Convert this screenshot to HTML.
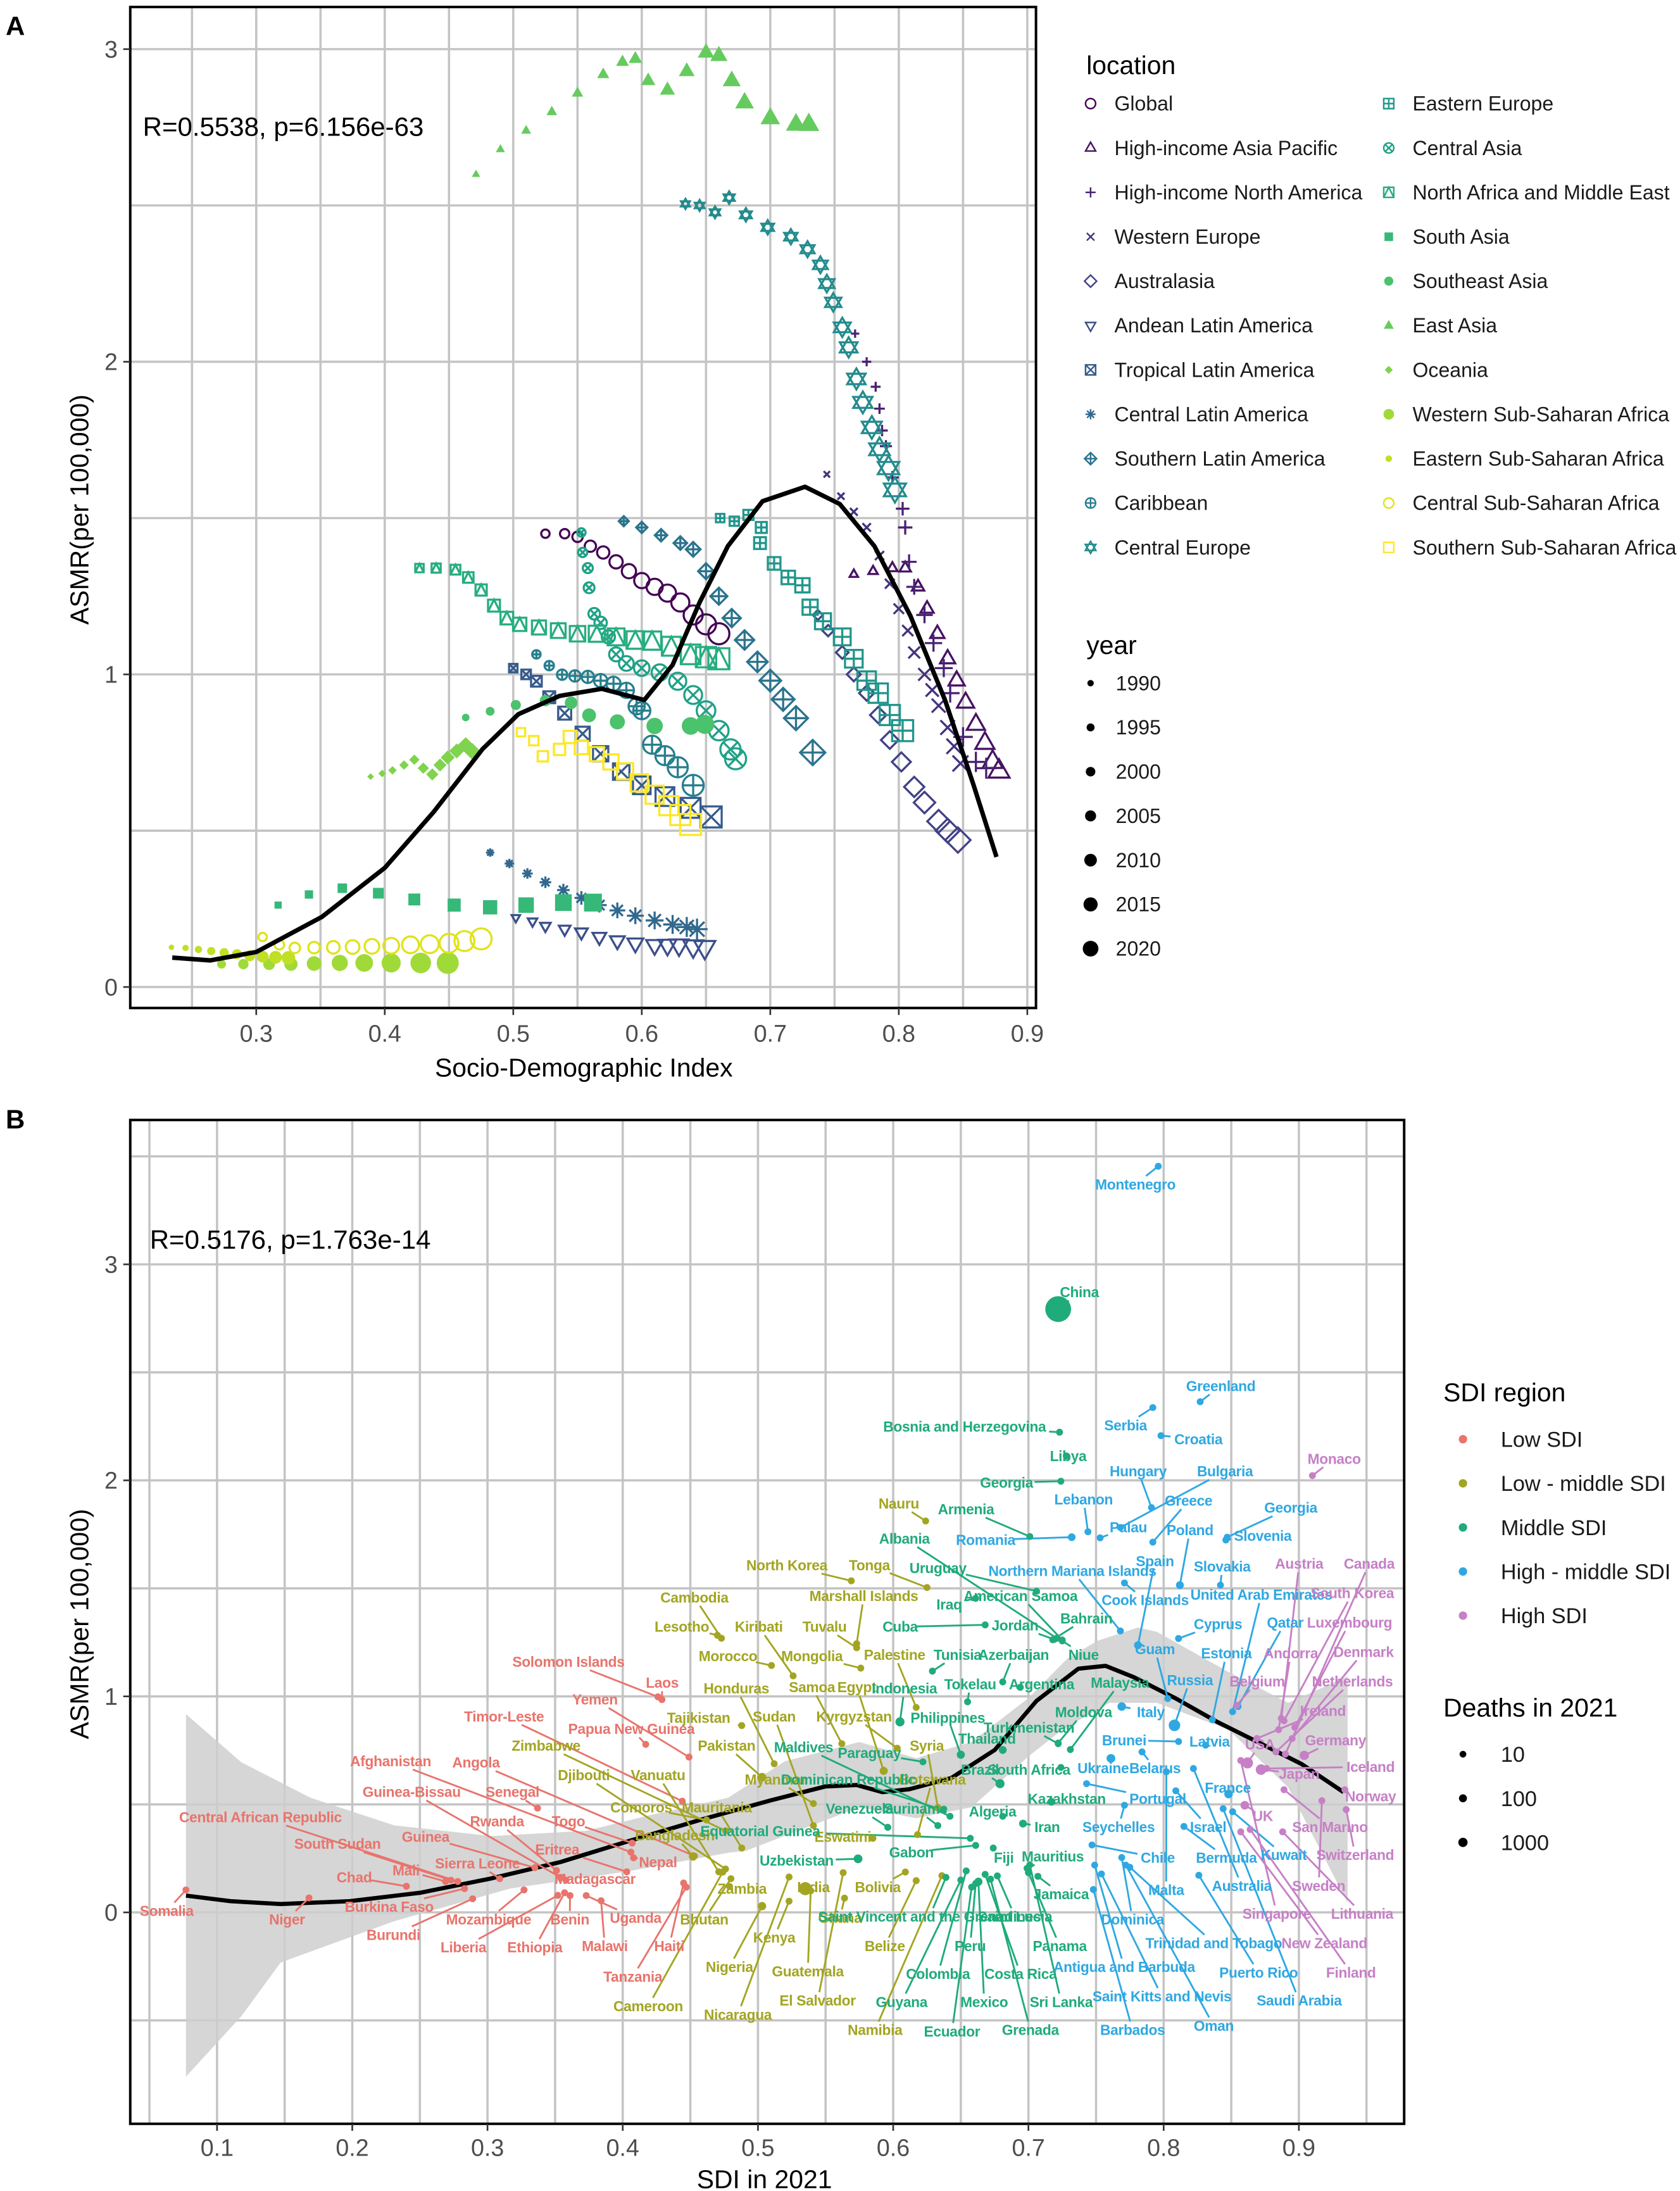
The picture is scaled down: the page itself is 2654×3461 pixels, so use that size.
<!DOCTYPE html>
<html><head><meta charset="utf-8">
<style>
html,body{margin:0;padding:0;background:#fff;}
svg{display:block;font-family:"Liberation Sans",Arial,sans-serif;}
</style></head>
<body>
<svg id="fig" width="2654" height="3461" viewBox="0 0 1200 1565" xmlns="http://www.w3.org/2000/svg">
<rect x="0" y="0" width="1200" height="1565" fill="#fff"/>
<defs>
<clipPath id="clipA"><rect x="93" y="5" width="647" height="715"/></clipPath>
<clipPath id="clipB"><rect x="93" y="800" width="910" height="717"/></clipPath>
</defs>
<g id="panelA"></g>
<g id="panelB"></g>
<text x="4" y="25" font-size="19" font-weight="bold">A</text>
<text x="4" y="806" font-size="19" font-weight="bold">B</text>
</svg>
<script>
// ---------------- Panel A data ----------------
const regions = ["Global","High-income Asia Pacific","High-income North America","Western Europe","Australasia","Andean Latin America","Tropical Latin America","Central Latin America","Southern Latin America","Caribbean","Central Europe","Eastern Europe","Central Asia","North Africa and Middle East","South Asia","Southeast Asia","East Asia","Oceania","Western Sub-Saharan Africa","Eastern Sub-Saharan Africa","Central Sub-Saharan Africa","Southern Sub-Saharan Africa"];
const regionSdi = [
[0.525,0.54,0.55,0.56,0.57,0.58,0.59,0.60,0.61,0.62,0.63,0.64,0.65,0.66],
[0.765,0.78,0.795,0.805,0.815,0.822,0.83,0.838,0.845,0.852,0.86,0.867,0.873,0.878],
[0.766,0.775,0.782,0.785,0.787,0.79,0.795,0.803,0.805,0.808,0.812,0.82,0.827,0.835,0.84,0.85,0.86,0.868],
[0.744,0.755,0.765,0.775,0.785,0.793,0.80,0.807,0.812,0.82,0.826,0.831,0.838,0.843,0.848],
[0.737,0.745,0.756,0.765,0.775,0.784,0.793,0.802,0.812,0.82,0.831,0.838,0.846],
[0.502,0.515,0.525,0.54,0.553,0.567,0.581,0.595,0.61,0.62,0.629,0.64,0.649],
[0.50,0.51,0.518,0.528,0.54,0.554,0.568,0.584,0.60,0.618,0.638,0.654],
[0.482,0.497,0.511,0.525,0.539,0.553,0.567,0.581,0.595,0.61,0.624,0.635,0.643],
[0.586,0.60,0.615,0.63,0.64,0.65,0.66,0.67,0.68,0.69,0.70,0.71,0.72,0.733],
[0.518,0.528,0.538,0.548,0.558,0.568,0.578,0.588,0.596,0.60,0.608,0.618,0.628,0.64],
[0.634,0.645,0.657,0.668,0.681,0.698,0.716,0.729,0.739,0.744,0.749,0.756,0.761,0.767,0.772,0.779,0.785,0.792,0.797],
[0.661,0.672,0.683,0.693,0.692,0.703,0.714,0.725,0.731,0.741,0.756,0.765,0.775,0.784,0.793,0.803],
[0.553,0.554,0.558,0.559,0.563,0.568,0.574,0.58,0.588,0.60,0.614,0.628,0.64,0.65,0.66,0.669,0.673],
[0.427,0.44,0.455,0.465,0.475,0.485,0.495,0.505,0.52,0.535,0.55,0.565,0.58,0.595,0.608,0.623,0.638,0.65,0.66],
[0.317,0.341,0.367,0.395,0.423,0.454,0.482,0.51,0.539,0.562],
[0.463,0.482,0.502,0.525,0.545,0.559,0.581,0.61,0.638,0.649],
[0.471,0.49,0.51,0.53,0.55,0.57,0.585,0.595,0.605,0.62,0.635,0.65,0.66,0.67,0.68,0.70,0.72,0.73],
[0.389,0.398,0.406,0.415,0.423,0.43,0.437,0.443,0.449,0.456,0.463,0.468],
[0.273,0.29,0.31,0.327,0.345,0.365,0.384,0.405,0.428,0.449],
[0.234,0.245,0.255,0.265,0.275,0.285,0.295,0.305,0.315,0.325],
[0.305,0.318,0.33,0.345,0.36,0.375,0.39,0.405,0.42,0.435,0.45,0.462,0.475],
[0.506,0.516,0.523,0.536,0.544,0.553,0.565,0.576,0.587,0.598,0.61,0.621,0.63,0.638]
];
const regionAsmr = [
[1.45,1.45,1.44,1.41,1.39,1.36,1.33,1.30,1.28,1.26,1.23,1.19,1.16,1.13],
[1.32,1.33,1.34,1.34,1.28,1.21,1.13,1.05,0.98,0.91,0.84,0.78,0.72,0.69],
[2.09,2.00,1.92,1.85,1.78,1.73,1.63,1.53,1.47,1.36,1.28,1.19,1.10,1.02,0.94,0.80,0.72,0.70],
[1.64,1.57,1.52,1.47,1.38,1.29,1.21,1.14,1.07,1.00,0.95,0.90,0.83,0.77,0.715],
[1.19,1.14,1.07,1.00,0.94,0.87,0.79,0.72,0.64,0.59,0.53,0.50,0.47],
[0.222,0.21,0.195,0.185,0.175,0.16,0.148,0.14,0.134,0.134,0.134,0.13,0.127],
[1.02,1.0,0.978,0.927,0.876,0.81,0.746,0.689,0.645,0.609,0.573,0.544],
[0.43,0.395,0.363,0.335,0.31,0.285,0.262,0.245,0.228,0.213,0.20,0.192,0.185],
[1.49,1.47,1.445,1.42,1.40,1.33,1.25,1.18,1.11,1.04,0.98,0.92,0.86,0.75],
[1.064,1.028,0.999,0.995,0.992,0.98,0.97,0.949,0.898,0.884,0.775,0.74,0.703,0.645],
[2.505,2.50,2.478,2.525,2.47,2.43,2.40,2.36,2.31,2.25,2.19,2.11,2.046,1.945,1.87,1.79,1.72,1.66,1.59],
[1.50,1.49,1.51,1.47,1.42,1.355,1.31,1.285,1.215,1.17,1.12,1.05,0.98,0.94,0.87,0.82],
[1.454,1.39,1.34,1.277,1.194,1.165,1.12,1.064,1.035,1.02,1.006,0.978,0.934,0.884,0.82,0.76,0.73],
[1.34,1.34,1.335,1.31,1.27,1.22,1.18,1.16,1.15,1.14,1.13,1.13,1.12,1.11,1.108,1.09,1.064,1.055,1.05],
[0.262,0.296,0.316,0.30,0.28,0.262,0.255,0.262,0.27,0.27],
[0.862,0.882,0.902,0.916,0.909,0.869,0.848,0.835,0.835,0.84],
[2.60,2.68,2.74,2.80,2.86,2.92,2.96,2.97,2.90,2.87,2.93,2.99,2.98,2.90,2.83,2.78,2.76,2.76],
[0.673,0.683,0.693,0.71,0.727,0.70,0.68,0.71,0.734,0.755,0.774,0.754],
[0.073,0.073,0.073,0.073,0.075,0.077,0.077,0.077,0.077,0.077],
[0.127,0.125,0.12,0.115,0.11,0.105,0.1,0.097,0.095,0.093],
[0.16,0.135,0.125,0.126,0.127,0.128,0.13,0.132,0.135,0.137,0.14,0.147,0.154],
[0.815,0.788,0.738,0.76,0.80,0.766,0.745,0.72,0.69,0.653,0.615,0.58,0.55,0.52]
];
const fitASdi = [0.2346,0.264,0.30,0.351,0.40,0.438,0.476,0.504,0.536,0.569,0.602,0.624,0.645,0.667,0.694,0.727,0.754,0.781,0.809,0.836,0.858,0.876];
const fitAAsmr = [0.094,0.085,0.112,0.224,0.381,0.56,0.761,0.873,0.931,0.954,0.918,1.03,1.23,1.41,1.554,1.6,1.545,1.41,1.187,0.918,0.649,0.416];
const xTicksA = [0.3,0.4,0.5,0.6,0.7,0.8,0.9];
const yTicksA = [0,1,2,3];
const yearLabels = [1990,1995,2000,2005,2010,2015,2020];

// ---------------- Panel B data ----------------
const sdiGroups = ["Low SDI","Low - middle SDI","Middle SDI","High - middle SDI","High SDI"];
const countries = ["Somalia","Niger","Central African Republic","South Sudan","Guinea","Chad","Mali","Sierra Leone","Burkina Faso","Burundi","Mozambique","Liberia","Ethiopia","Benin","Malawi","Uganda","Tanzania","Haiti","Madagascar","Nepal","Eritrea","Rwanda","Togo","Senegal","Guinea-Bissau","Afghanistan","Angola","Timor-Leste","Papua New Guinea","Yemen","Solomon Islands","Laos",
"Bangladesh","Comoros","Mauritania","Zimbabwe","Djibouti","Vanuatu","Tajikistan","Cameroon","Bhutan","Nauru","North Korea","Tonga","Cambodia","Marshall Islands","Lesotho","Kiribati","Tuvalu","Morocco","Mongolia","Palestine","Samoa","Honduras","Egypt","Sudan","Kyrgyzstan","Pakistan","Syria","Myanmar","Botswana","Eswatini","Zambia","India","Bolivia","Ghana","Kenya","Belize","Nigeria","Guatemala","El Salvador","Nicaragua","Namibia",
"Equatorial Guinea","Uzbekistan","Gabon","Maldives","Paraguay","Dominican Republic","Venezuela","Suriname","Saint Vincent and the Grenadines","Saint Lucia","Guyana","Colombia","Ecuador","Peru","Mexico","Costa Rica","Grenada","Fiji","Algeria","Iran","Mauritius","Jamaica","Panama","Sri Lanka","Kazakhstan","Turkmenistan","South Africa","Brazil","Thailand","Tokelau","Argentina","Tunisia","Azerbaijan","Cuba","Jordan","Iraq","American Samoa","Uruguay","Albania","Armenia","Moldova","Malaysia","Niue","Bahrain","Bosnia and Herzegovina","Georgia","Libya","China","Indonesia","Philippines",
"Montenegro","Lebanon","Romania","Northern Mariana Islands","Cook Islands","Palau","Bulgaria","Serbia","Croatia","Greenland","Hungary","Greece","Poland","Spain","Slovakia","Georgia","Slovenia","United Arab Emirates","Cyprus","Guam","Estonia","Russia","Italy","Brunei","Latvia","Ukraine","Belarus","Portugal","France","Seychelles","Israel","Chile","Bermuda","Malta","Australia","Dominica","Trinidad and Tobago","Antigua and Barbuda","Saint Kitts and Nevis","Barbados","Oman","Puerto Rico","Saudi Arabia","Kuwait","Qatar",
"Monaco","Austria","Canada","South Korea","Luxembourg","Andorra","Denmark","Belgium","Netherlands","Ireland","Germany","USA","Japan","Iceland","Norway","UK","San Marino","Switzerland","Sweden","Singapore","Lithuania","New Zealand","Finland"];
// number of consecutive countries in each SDI group (same order as sdiGroups)
const groupCounts = [32,41,50,45,23];
const countrySdi = [0.077,0.168,0.278,0.273,0.335,0.240,0.269,0.309,0.283,0.289,0.327,0.352,0.357,0.361,0.384,0.373,0.447,0.445,0.358,0.408,0.403,0.351,0.407,0.337,0.354,0.406,0.453,0.444,0.417,0.449,0.426,0.429,
0.452,0.462,0.488,0.476,0.476,0.471,0.488,0.474,0.480,0.624,0.569,0.625,0.473,0.573,0.470,0.526,0.573,0.510,0.576,0.617,0.562,0.512,0.593,0.541,0.603,0.503,0.633,0.541,0.618,0.585,0.479,0.535,0.609,0.564,0.523,0.617,0.503,0.539,0.563,0.523,0.636,
0.657,0.574,0.661,0.642,0.622,0.637,0.596,0.633,0.639,0.677,0.650,0.654,0.658,0.661,0.663,0.668,0.672,0.674,0.681,0.696,0.699,0.707,0.700,0.701,0.717,0.722,0.724,0.679,0.681,0.655,0.694,0.629,0.681,0.668,0.719,0.661,0.725,0.706,0.721,0.701,0.722,0.731,0.725,0.718,0.723,0.724,0.728,0.722,0.605,0.650,
0.796,0.744,0.732,0.768,0.771,0.753,0.768,0.792,0.798,0.827,0.791,0.792,0.812,0.781,0.842,0.847,0.846,0.851,0.811,0.803,0.836,0.808,0.769,0.811,0.831,0.761,0.784,0.743,0.848,0.771,0.809,0.747,0.815,0.802,0.822,0.769,0.775,0.749,0.754,0.748,0.772,0.826,0.844,0.851,0.855,
0.910,0.887,0.890,0.889,0.897,0.885,0.895,0.854,0.883,0.869,0.904,0.862,0.872,0.876,0.934,0.860,0.889,0.935,0.917,0.857,0.888,0.857,0.864];
const countryAsmr = [0.104,0.067,0.143,0.149,0.207,0.121,0.143,0.156,0.110,0.063,0.104,0.079,0.091,0.078,0.054,0.078,0.117,0.136,0.149,0.253,0.188,0.194,0.321,0.483,0.162,0.279,0.261,0.515,0.778,0.719,0.998,0.985,
0.259,0.428,0.298,0.378,0.201,0.188,0.865,0.187,0.156,1.812,1.535,1.504,1.269,1.244,1.283,1.095,1.225,1.143,1.131,0.949,0.781,0.688,0.655,0.402,0.760,0.626,0.486,0.504,0.360,0.343,0.120,0.110,0.187,0.066,0.052,0.147,0.029,0.100,0.184,0.164,0.170,
0.343,0.248,0.310,0.445,0.697,0.473,0.394,0.402,0.162,0.169,0.150,0.192,0.117,0.134,0.142,0.176,0.154,0.298,0.445,0.411,0.204,0.167,0.184,0.220,0.512,0.781,0.671,0.596,0.752,0.975,1.042,1.117,1.067,1.331,1.264,1.454,1.261,1.487,1.269,1.740,0.784,0.754,1.257,1.262,2.223,1.996,2.113,2.793,0.882,0.730,
3.454,1.762,1.737,1.303,1.525,1.734,1.782,2.337,2.207,2.364,1.874,1.714,1.515,1.237,1.515,1.737,1.724,0.929,1.268,0.990,0.892,0.866,0.953,0.791,0.774,0.713,0.743,0.596,0.548,0.496,0.563,0.312,0.398,0.651,0.666,0.254,0.209,0.219,0.178,0.106,0.219,0.172,0.480,0.466,0.953,
2.022,0.898,0.733,0.887,0.857,0.846,0.805,0.959,0.743,0.805,0.727,0.692,0.661,0.666,0.568,0.496,0.568,0.476,0.517,0.703,0.373,0.373,0.384];
const countryDeaths = {"China":40000,"India":5000,"Russia":3000,"USA":2500,"Japan":2000,"Germany":1000,"Brazil":900,"Indonesia":900,"Uzbekistan":700,"Ukraine":700,"Italy":600,"UK":600,"France":600,"Pakistan":600,"Nigeria":500,"Bangladesh":500,"Egypt":400,"Mexico":400,"Philippines":400,"Poland":300,"Thailand":300,"Iran":300,"Spain":300,"Kazakhstan":250,"Romania":250};
const fitBSdi = [0.077,0.110,0.147,0.198,0.250,0.302,0.354,0.405,0.457,0.509,0.550,0.573,0.592,0.612,0.643,0.675,0.706,0.737,0.757,0.778,0.809,0.840,0.871,0.902,0.933];
const fitBAsmr = [0.078,0.052,0.039,0.052,0.091,0.156,0.233,0.331,0.428,0.518,0.583,0.590,0.557,0.570,0.622,0.752,0.979,1.128,1.141,1.089,0.990,0.881,0.784,0.687,0.557];
const bandHiSdi = [0.077,0.118,0.169,0.231,0.303,0.373,0.420,0.478,0.520,0.575,0.617,0.658,0.700,0.729,0.751,0.781,0.795,0.848,0.892,0.936];
const bandHiAsmr = [0.918,0.695,0.531,0.403,0.353,0.378,0.45,0.531,0.70,0.789,0.714,0.789,0.992,1.176,1.257,1.319,1.299,1.113,0.970,1.093];
const bandLoSdi = [0.077,0.118,0.147,0.231,0.317,0.402,0.478,0.491,0.575,0.617,0.658,0.700,0.725,0.760,0.795,0.848,0.892,0.936];
const bandLoAsmr = [-0.76,-0.48,-0.232,-0.041,0.111,0.188,0.276,0.285,0.487,0.436,0.487,0.722,0.846,0.970,0.970,0.846,0.579,0.044];
const xTicksB = [0.1,0.2,0.3,0.4,0.5,0.6,0.7,0.8,0.9];
const yTicksB = [0,1,2,3];
const deathLegend = [10,100,1000];
// label layout (display positions, not data)
const labelPos = [[119,1365],[205,1371],[186,1298],[241,1317],[304,1312],[253,1341],[290,1336],[341,1331],[278,1362],[281,1382],[349,1371],[331,1391],[382,1391],[407,1371],[432,1390],[454,1370],[452,1412],[478,1390],[425,1342],[470,1330],[398,1321],[355,1301],[406,1301],[366,1280],[294,1280],[279,1258],[340,1259],[360,1226],[451,1235],[425,1214],[406,1187],[473,1202],
[482,1311],[458,1291],[512,1291],[390,1247],[417,1268],[470,1268],[499,1227],[463,1433],[503,1371],[642,1074],[562,1118],[621,1118],[496,1141],[617,1140],[487,1162],[542,1162],[589,1162],[520,1183],[580,1183],[639,1182],[580,1205],[526,1206],[612,1205],[553,1226],[610,1226],[519,1247],[662,1247],[554,1271],[666,1271],[602,1312],[530,1349],[581,1348],[627,1348],[600,1370],[553,1384],[632,1390],[521,1405],[577,1408],[584,1429],[527,1439],[625,1450],
[543,1308],[569,1329],[651,1323],[574,1248],[621,1252],[606,1271],[614,1292],[654,1292],[664,1369],[725,1369],[644,1430],[670,1410],[680,1451],[693,1390],[703,1430],[729,1410],[736,1450],[717,1327],[709,1294],[748,1305],[752,1326],[758,1353],[757,1390],[758,1430],[762,1285],[735,1234],[735,1264],[700,1264],[705,1242],[693,1203],[744,1203],[684,1182],[724,1182],[643,1162],[725,1161],[678,1146],[729,1140],[670,1120],[646,1099],[690,1078],[774,1223],[800,1202],[774,1182],[776,1156],[689,1019],[719,1059],[763,1040],[771,923],[646,1206],[677,1227],
[811,846],[774,1071],[704,1100],[766,1122],[818,1143],[806,1091],[875,1051],[804,1018],[856,1028],[872,990],[813,1051],[849,1072],[850,1093],[825,1115],[873,1119],[922,1077],[902,1097],[901,1139],[870,1160],[825,1178],[876,1181],[850,1200],[822,1223],[803,1243],[864,1244],[788,1263],[825,1263],[827,1285],[877,1277],[799,1305],[863,1305],[827,1327],[876,1327],[833,1350],[887,1347],[809,1371],[867,1388],[803,1405],[830,1426],[809,1450],[867,1447],[899,1409],[928,1429],[917,1325],[918,1159],
[953,1042],[928,1117],[978,1117],[966,1138],[964,1159],[922,1181],[974,1180],[898,1201],[966,1201],[945,1222],[954,1243],[900,1246],[928,1267],[979,1262],[979,1283],[902,1297],[950,1305],[968,1325],[942,1347],[912,1367],[973,1367],[946,1388],[965,1409]];
</script>
<script>
const NS = "http://www.w3.org/2000/svg";
function mk(tag, attrs, parent){ const e=document.createElementNS(NS,tag); for(const k in attrs) e.setAttribute(k,attrs[k]); parent.appendChild(e); return e; }
const vir = ["#440154","#471365","#482475","#463480","#414487","#3b528b","#355f8d","#2f6c8e","#2a788e","#25848e","#21918c","#1e9c89","#22a884","#2fb47c","#44bf70","#5ec962","#7ad151","#9bd93c","#bddf26","#dfe318","#fde725"];
function hx(c){return [parseInt(c.slice(1,3),16),parseInt(c.slice(3,5),16),parseInt(c.slice(5,7),16)];}
function viridis(t){ const p=t*20, i=Math.min(19,Math.floor(p)), f=p-i; const a=hx(vir[i]), b=hx(vir[i+1]); return "rgb("+a.map((v,j)=>Math.round(v+(b[j]-v)*f)).join(",")+")"; }
const shapes = ['circle','triangle','plus','cross','diamond','triangleDown','squareCross','asterisk','diamondPlus','circlePlus','star6','squarePlus','circleCross','squareTriangle','squareFill','circleFill','triangleFill','diamondSmall','circleBig','circleSmall','circleOpen','square'];
function drawShape(g, shape, cx, cy, r, col, swIn){
  const sw = swIn || 1.3;
  const st = {fill:"none", stroke:col, "stroke-width":sw};
  let el;
  switch(shape){
    case 'circle': case 'circleOpen': el=mk('circle',{cx,cy,r,...st},g); break;
    case 'triangle': el=mk('path',{d:`M${cx},${cy-r*1.15}L${cx+r},${cy+r*0.6}L${cx-r},${cy+r*0.6}Z`,...st},g); break;
    case 'triangleDown': el=mk('path',{d:`M${cx},${cy+r*1.15}L${cx+r},${cy-r*0.6}L${cx-r},${cy-r*0.6}Z`,...st},g); break;
    case 'plus': el=mk('path',{d:`M${cx-r},${cy}H${cx+r}M${cx},${cy-r}V${cy+r}`,...st},g); break;
    case 'cross': el=mk('path',{d:`M${cx-r*0.75},${cy-r*0.75}L${cx+r*0.75},${cy+r*0.75}M${cx-r*0.75},${cy+r*0.75}L${cx+r*0.75},${cy-r*0.75}`,...st},g); break;
    case 'diamond': el=mk('path',{d:`M${cx},${cy-r*1.2}L${cx+r*1.2},${cy}L${cx},${cy+r*1.2}L${cx-r*1.2},${cy}Z`,...st},g); break;
    case 'diamondPlus': el=mk('path',{d:`M${cx},${cy-r*1.2}L${cx+r*1.2},${cy}L${cx},${cy+r*1.2}L${cx-r*1.2},${cy}ZM${cx-r*1.2},${cy}H${cx+r*1.2}M${cx},${cy-r*1.2}V${cy+r*1.2}`,...st},g); break;
    case 'squareCross': el=mk('path',{d:`M${cx-r},${cy-r}h${2*r}v${2*r}h${-2*r}ZL${cx+r},${cy+r}M${cx-r},${cy+r}L${cx+r},${cy-r}`,...st},g); break;
    case 'squarePlus': el=mk('path',{d:`M${cx-r},${cy-r}h${2*r}v${2*r}h${-2*r}ZM${cx-r},${cy}H${cx+r}M${cx},${cy-r}V${cy+r}`,...st},g); break;
    case 'squareTriangle': el=mk('path',{d:`M${cx-r},${cy-r}h${2*r}v${2*r}h${-2*r}ZM${cx-r},${cy+r}L${cx},${cy-r}L${cx+r},${cy+r}`,...st},g); break;
    case 'square': el=mk('path',{d:`M${cx-r},${cy-r}h${2*r}v${2*r}h${-2*r}Z`,...st},g); break;
    case 'asterisk': el=mk('path',{d:`M${cx-r},${cy}H${cx+r}M${cx},${cy-r}V${cy+r}M${cx-r*0.7},${cy-r*0.7}L${cx+r*0.7},${cy+r*0.7}M${cx-r*0.7},${cy+r*0.7}L${cx+r*0.7},${cy-r*0.7}`,...st},g); break;
    case 'circlePlus': el=mk('path',{d:`M${cx-r},${cy}a${r},${r} 0 1,0 ${2*r},0a${r},${r} 0 1,0 ${-2*r},0M${cx-r},${cy}H${cx+r}M${cx},${cy-r}V${cy+r}`,...st},g); break;
    case 'circleCross': el=mk('path',{d:`M${cx-r},${cy}a${r},${r} 0 1,0 ${2*r},0a${r},${r} 0 1,0 ${-2*r},0M${cx-r*0.7},${cy-r*0.7}L${cx+r*0.7},${cy+r*0.7}M${cx-r*0.7},${cy+r*0.7}L${cx+r*0.7},${cy-r*0.7}`,...st},g); break;
    case 'star6': el=mk('path',{d:`M${cx},${cy-r*1.2}L${cx+r*1.05},${cy+r*0.6}L${cx-r*1.05},${cy+r*0.6}ZM${cx},${cy+r*1.2}L${cx+r*1.05},${cy-r*0.6}L${cx-r*1.05},${cy-r*0.6}Z`,...st},g); break;
    case 'squareFill': el=mk('rect',{x:cx-r*0.85,y:cy-r*0.85,width:r*1.7,height:r*1.7,fill:col},g); break;
    case 'circleFill': el=mk('circle',{cx,cy,r:r*0.9,fill:col},g); break;
    case 'triangleFill': el=mk('path',{d:`M${cx},${cy-r*1.1}L${cx+r},${cy+r*0.65}L${cx-r},${cy+r*0.65}Z`,fill:col},g); break;
    case 'diamondSmall': el=mk('path',{d:`M${cx},${cy-r*0.8}L${cx+r*0.8},${cy}L${cx},${cy+r*0.8}L${cx-r*0.8},${cy}Z`,fill:col},g); break;
    case 'circleBig': el=mk('circle',{cx,cy,r:r*1.05,fill:col},g); break;
    case 'circleSmall': el=mk('circle',{cx,cy,r:r*0.65,fill:col},g); break;
  }
  return el;
}
function txt(parent, x, y, s, attrs){ const t=mk('text',Object.assign({x,y},attrs||{}),parent); t.textContent=s; return t; }

// ================= PANEL A =================
const A = document.getElementById('panelA');
const xA = v => 183 + (v-0.3)*918;
const yA = v => 705 - v*223.3;
const gridA = mk('g',{stroke:"#c4c4c4","stroke-width":1.6},A);


for(let v=0.25; v<=0.9001; v+=0.05){ const l=mk('line',{x1:xA(v),x2:xA(v),y1:5,y2:720},gridA);   }
for(let v=0; v<=3.001; v+=0.5){ const l=mk('line',{x1:93,x2:740,y1:yA(v),y2:yA(v)},gridA);   }
const marksA = mk('g',{"clip-path":"url(#clipA)"},A);


regions.forEach((name,i)=>{
  const col = viridis(i/21);
  const g = mk('g',{},marksA);
  
  
  const n = regionSdi[i].length;
  regionSdi[i].forEach((s,j)=>{
    const r = 3.0 + 4.5*j/(n-1);
    const el = drawShape(g, shapes[i], xA(s), yA(regionAsmr[i][j]), r, col, 1.5);
    
    
  });
});
const fitA = mk('path',{d:fitASdi.map((s,i)=>(i?'L':'M')+xA(s).toFixed(1)+','+yA(fitAAsmr[i]).toFixed(1)).join(''),fill:"none",stroke:"#000","stroke-width":3.2,"stroke-linejoin":"round"},marksA);


const borderA = mk('rect',{x:93,y:5,width:647,height:715,fill:"none",stroke:"#000","stroke-width":1.8},A);


xTicksA.forEach(v=>{
  const tk=mk('line',{x1:xA(v),x2:xA(v),y1:720,y2:725,stroke:"#333","stroke-width":1.2},A);
   
  const t=txt(A,xA(v),744,v.toFixed(1),{"text-anchor":"middle","font-size":17,fill:"#4d4d4d"});
   
});
yTicksA.forEach(v=>{
  const tk=mk('line',{x1:88,x2:93,y1:yA(v),y2:yA(v),stroke:"#333","stroke-width":1.2},A);
   
  const t=txt(A,84,yA(v)+6,String(v),{"text-anchor":"end","font-size":17,fill:"#4d4d4d"});
   
});
let t;
t=txt(A,417,769,"Socio-Demographic Index",{"text-anchor":"middle","font-size":18.5});
 
t=txt(A,0,0,"ASMR(per 100,000)",{"text-anchor":"middle","font-size":18.5,transform:"translate(63,364) rotate(-90)"});
 
t=txt(A,102,97,"R=0.5538, p=6.156e-63",{"font-size":19});
 
t=txt(A,776,53,"location",{"font-size":18.5});
 
regions.forEach((name,i)=>{
  const col = i<11?0:1, row = i%11;
  const lx = col? 992:779, ly = 74 + row*31.7;
  const g = mk('g',{},A);
  
  
  drawShape(g, shapes[i], lx, ly, 3.6, viridis(i/21), 1.1);
  const tt = txt(g, lx+17, ly+5, name, {"font-size":14.5, fill:"#1a1a1a"});
  
  
});
t=txt(A,776,467,"year",{"font-size":18.5});
 
yearLabels.forEach((y,i)=>{
  const cy = 488 + i*31.6;
  const c = mk('circle',{cx:779,cy,r:2.3+i*0.55,fill:"#000"},A);
   
  const tt = txt(A,797,cy+5,String(y),{"font-size":14.5, fill:"#1a1a1a"});
   
});

// ================= PANEL B =================
const B = document.getElementById('panelB');
const xB = v => 155 + (v-0.1)*966;
const yB = v => 1366 - v*154.3;
const groupCols = ["#e8746c","#a3a522","#1fab7a","#2fa8e2","#c680c6"];
const countryGroup = [];
groupCounts.forEach((n,gi)=>{ for(let k=0;k<n;k++) countryGroup.push(gi); });
const gridB = mk('g',{stroke:"#c4c4c4","stroke-width":1.6},B);


for(let v=0.05; v<=0.951; v+=0.05){ const l=mk('line',{x1:xB(v),x2:xB(v),y1:800,y2:1517},gridB);   }
for(let v=-0.5; v<=3.501; v+=0.5){ const l=mk('line',{x1:93,x2:1003,y1:yB(v),y2:yB(v)},gridB);   }
const marksB = mk('g',{"clip-path":"url(#clipB)"},B);


const bandD = bandHiSdi.map((s,i)=>(i?'L':'M')+xB(s).toFixed(1)+','+yB(bandHiAsmr[i]).toFixed(1)).join('') +
  bandLoSdi.slice().reverse().map((s,i)=>'L'+xB(s).toFixed(1)+','+yB(bandLoAsmr[bandLoSdi.length-1-i]).toFixed(1)).join('') + 'Z';
const band = mk('path',{d:bandD,fill:"#cfcfcf","fill-opacity":0.85},marksB);


const fitB = mk('path',{d:fitBSdi.map((s,i)=>(i?'L':'M')+xB(s).toFixed(1)+','+yB(fitBAsmr[i]).toFixed(1)).join(''),fill:"none",stroke:"#000","stroke-width":3,"stroke-linejoin":"round"},marksB);


const segG = mk('g',{},marksB);


const ptG = mk('g',{},marksB);


const lbG = mk('g',{"font-size":10.3,"font-weight":"bold"},B);


countries.forEach((name,i)=>{
  const col = groupCols[countryGroup[i]];
  const px = xB(countrySdi[i]), py = yB(countryAsmr[i]);
  const d = countryDeaths[name] || 60;
  const r = 2.2 + 7*Math.sqrt(d/40000);
  const [lx,ly] = labelPos[i];
  const w = name.length*5.4, h = 10;
  const dx = px-lx, dy = py-ly;
  if(Math.abs(dx) > w/2+3 || Math.abs(dy) > h/2+3){
    const tt = Math.min((w/2+1)/Math.max(Math.abs(dx),0.01),(h/2+1)/Math.max(Math.abs(dy),0.01));
    const ln = mk('line',{x1:px,y1:py,x2:lx+dx*tt,y2:ly+dy*tt,stroke:col,"stroke-width":1.3},segG);
    
    
  }
  const c = mk('circle',{cx:px,cy:py,r,fill:col},ptG);
  
  
  const lt = txt(lbG,lx,ly+3.6,name,{"text-anchor":"middle",fill:col,"letter-spacing":"-0.15"});
  
  
});
const borderB = mk('rect',{x:93,y:800,width:910,height:717,fill:"none",stroke:"#000","stroke-width":1.8},B);


xTicksB.forEach(v=>{
  const tk=mk('line',{x1:xB(v),x2:xB(v),y1:1517,y2:1522,stroke:"#333","stroke-width":1.2},B);
   
  const tt=txt(B,xB(v),1540,v.toFixed(1),{"text-anchor":"middle","font-size":17,fill:"#4d4d4d"});
   
});
yTicksB.forEach(v=>{
  const tk=mk('line',{x1:88,x2:93,y1:yB(v),y2:yB(v),stroke:"#333","stroke-width":1.2},B);
   
  const tt=txt(B,84,yB(v)+6,String(v),{"text-anchor":"end","font-size":17,fill:"#4d4d4d"});
   
});
t=txt(B,546,1563,"SDI in 2021",{"text-anchor":"middle","font-size":18.5});
 
t=txt(B,0,0,"ASMR(per 100,000)",{"text-anchor":"middle","font-size":18.5,transform:"translate(63,1160) rotate(-90)"});
 
t=txt(B,107,892,"R=0.5176, p=1.763e-14",{"font-size":19});
 
t=txt(B,1031,1001,"SDI region",{"font-size":18.5});
 
sdiGroups.forEach((g,i)=>{
  const cy = 1028 + i*31.5;
  const c = mk('circle',{cx:1045,cy,r:3,fill:groupCols[i]},B);
   
  const tt = txt(B,1072,cy+5.5,g,{"font-size":15.5,fill:"#1a1a1a"});
   
});
t=txt(B,1031,1226,"Deaths in 2021",{"font-size":18.5});
 
deathLegend.forEach((d,i)=>{
  const cy = 1253 + i*31.5;
  const c = mk('circle',{cx:1045,cy,r:2.4+i*0.45,fill:"#000"},B);
   
  const tt = txt(B,1072,cy+5.5,String(d),{"font-size":15.5,fill:"#1a1a1a"});
   
});
</script>
</body></html>
